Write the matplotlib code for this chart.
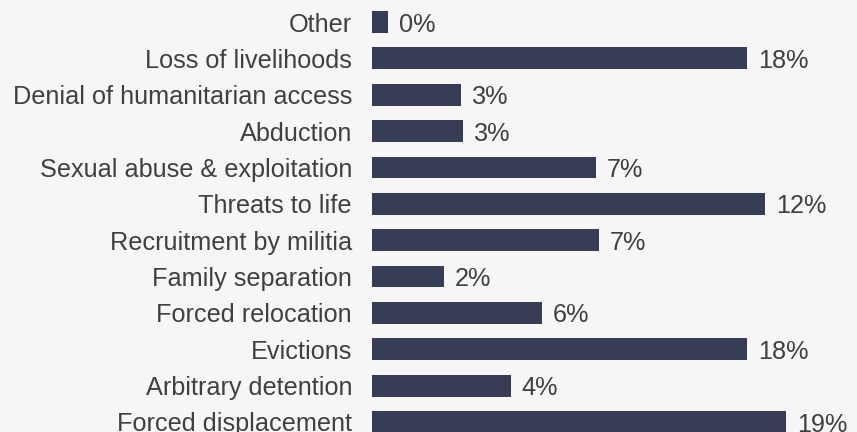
import matplotlib.pyplot as plt

# categories listed bottom to top
categories = ["Forced displacement", "Arbitrary detention", "Evictions",
              "Forced relocation", "Family separation", "Recruitment by militia",
              "Threats to life", "Sexual abuse & exploitation", "Abduction",
              "Denial of humanitarian access", "Loss of livelihoods", "Other"]
counts = [100, 33.5, 90.5, 41, 17.4, 54.8, 95, 54.1, 22, 21.5, 90.5, 3.9]
pct_labels = ["19%", "4%", "18%", "6%", "2%", "7%",
              "12%", "7%", "3%", "3%", "18%", "0%"]

bg = "#f6f6f6"
bar_color = "#363d55"
text_color = "#404040"

plt.rcParams['font.family'] = ['Liberation Sans', 'DejaVu Sans']

fig = plt.figure(figsize=(8.57, 4.32), dpi=100, facecolor=bg)
ax = fig.add_axes([372 / 857, 0, 1 - 372 / 857, 1])
ax.set_facecolor(bg)

ypos = range(len(categories))
ax.barh(ypos, counts, height=0.6, color=bar_color)

for y, v, lab in zip(ypos, counts, pct_labels):
    ax.annotate(lab, (v, y), xytext=(8, 0), textcoords="offset points",
                va="center_baseline", ha="left", fontsize=18.2, color=text_color)

ax.set_xlim(0, 117.1)
ax.set_ylim(-0.275, 11.605)
ax.set_yticks(list(ypos))
ax.set_yticklabels(categories, fontsize=18.2, color=text_color)
ax.tick_params(axis="y", length=0, pad=14.4)
ax.set_xticks([])
for s in ax.spines.values():
    s.set_visible(False)

fig.savefig("out.png", dpi=100, facecolor=bg)
